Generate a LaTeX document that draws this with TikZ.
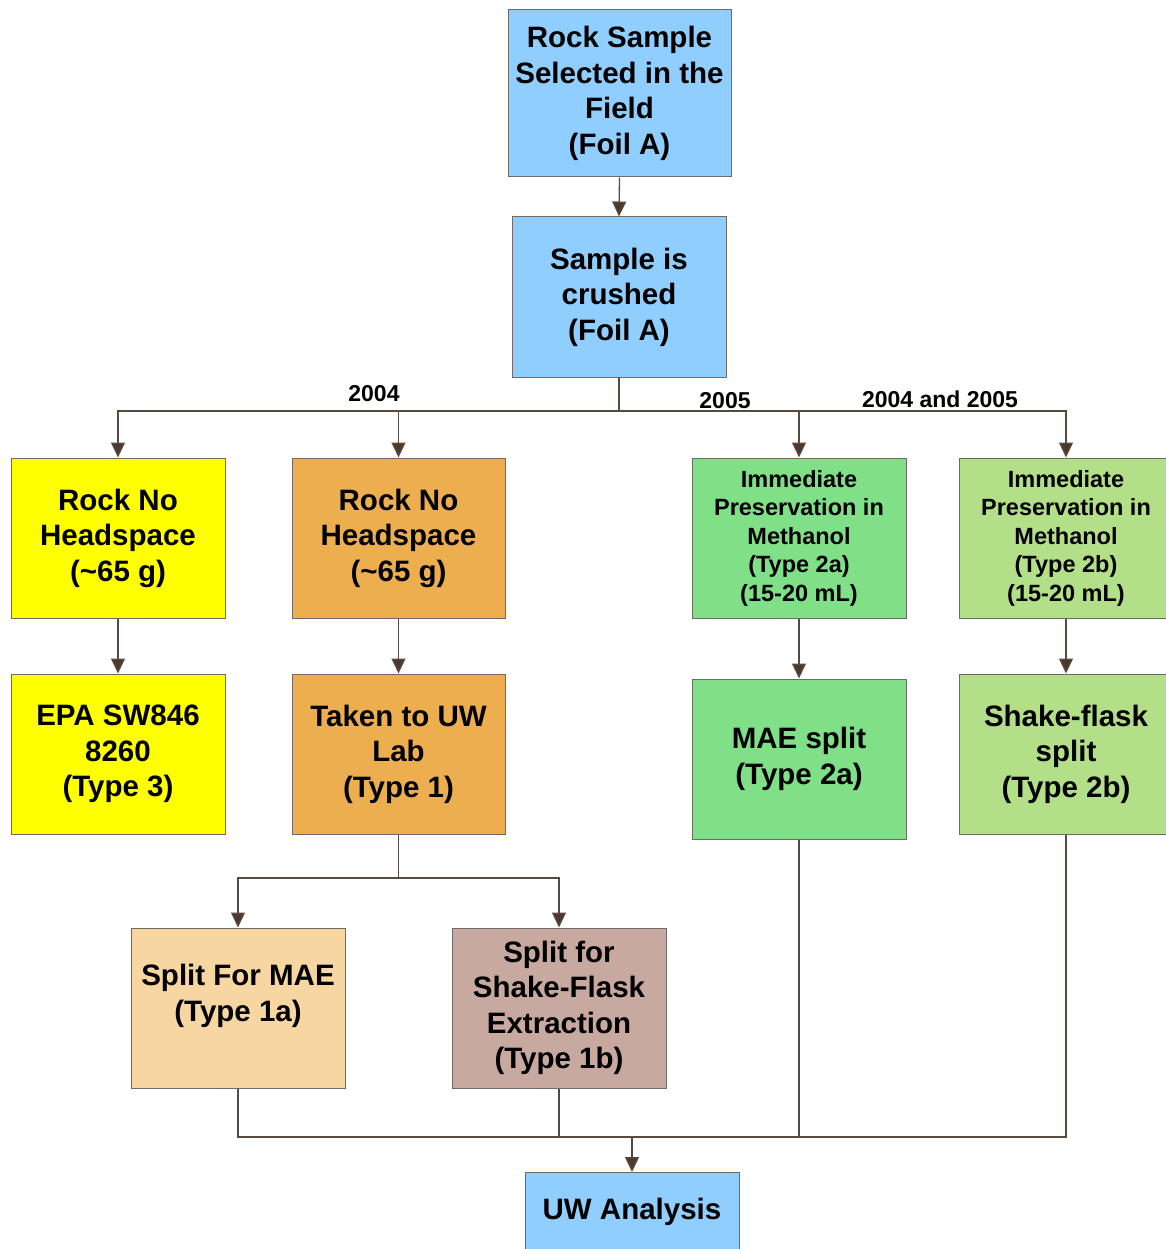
\documentclass[tikz,border=0pt]{standalone}
\usepackage{fontspec}
\setmainfont{Liberation Sans}
\usetikzlibrary{arrows.meta}
\definecolor{bluef}{HTML}{8FCEFF}
\definecolor{yelf}{HTML}{FFFF00}
\definecolor{orf}{HTML}{EDAE50}
\definecolor{grf}{HTML}{80E088}
\definecolor{lgrf}{HTML}{B3DF88}
\definecolor{peachf}{HTML}{F8D6A2}
\definecolor{rosef}{HTML}{C8A9A0}
\definecolor{edgec}{HTML}{6E6A66}
\definecolor{linec}{HTML}{5A4A3E}
\definecolor{tipc}{HTML}{4A3A2E}
\begin{document}
\begin{tikzpicture}[x=1pt,y=-1pt,
  box/.style={draw=edgec, line width=1pt, minimum width=214pt, minimum height=160pt,
    align=center, inner sep=0pt, font=\bfseries\fontsize{29.5}{35.5}\selectfont},
  smallbox/.style={box, font=\bfseries\fontsize{23.5}{28.5}\selectfont},
  txt/.style={align=center, inner sep=0pt, font=\bfseries\fontsize{29.5}{35.5}\selectfont},
  yearlbl/.style={inner sep=0pt, font=\bfseries\fontsize{23}{26}\selectfont},
  conn/.style={draw=linec, line width=1.3pt},
  arr/.style={conn, -{Triangle[width=14pt,length=15pt,fill=tipc]}}
]
\useasboundingbox (0,0) rectangle (1166,1249);

\node[box, fill=bluef, minimum width=223pt, minimum height=167pt] (b1) at (619.5,93.5)
  {Rock Sample\\Selected in the\\Field\\(Foil A)};
\node[box, fill=bluef] (b2) at (619,297) {Sample is\\crushed\\(Foil A)};

\node[box, fill=yelf] (b3) at (118,538) {Rock No\\Headspace\\(\textasciitilde65 g)};
\node[box, fill=orf, minimum width=213pt] (b4) at (398.5,538) {Rock No\\Headspace\\(\textasciitilde65 g)};
\node[smallbox, fill=grf] (b5) at (799,538) {Immediate\\Preservation in\\Methanol\\(Type 2a)\\(15-20 mL)};
\node[smallbox, fill=lgrf] (b6) at (1066,538) {Immediate\\Preservation in\\Methanol\\(Type 2b)\\(15-20 mL)};

\node[box, fill=yelf] (b7) at (118,754) {EPA SW846\\8260\\(Type 3)};
\node[box, fill=orf, minimum width=213pt] (b8) at (398.5,754) {Taken to UW\\Lab\\(Type 1)};
\node[box, fill=grf] (b9) at (799,759) {MAE split\\(Type 2a)};
\node[box, fill=lgrf] (b10) at (1066,754) {Shake-flask\\split\\(Type 2b)};

\node[box, fill=peachf] (b11) at (238,1008) {};
\node[txt] (b11t) at (238,996) {Split For MAE\\(Type 1a)};
\node[box, fill=rosef] (b12) at (559,1008) {Split for\\Shake-Flask\\Extraction\\(Type 1b)};

\node[box, fill=bluef, minimum height=78pt, anchor=north] (b13) at (632,1172) {UW Analysis};

\node[yearlbl] (y1) at (374,394) {2004};
\node[yearlbl] (y2) at (725,401) {2005};
\node[yearlbl] (y3) at (940,399) {2004 and 2005};

\coordinate (j1) at (619,411);
\coordinate (j2) at (398.5,878);
\coordinate (j3) at (632,1137);

\draw[arr] (b1.south) -- (b2.north);
\draw[conn] (b2.south) -- (j1);
\draw[arr] (j1) -| (b3.north);
\draw[arr] (j1) -| (b4.north);
\draw[arr] (j1) -| (b5.north);
\draw[arr] (j1) -| (b6.north);

\draw[arr] (b3.south) -- (b7.north);
\draw[arr] (b4.south) -- (b8.north);
\draw[arr] (b5.south) -- (b9.north);
\draw[arr] (b6.south) -- (b10.north);

\draw[conn] (b8.south) -- (j2);
\draw[arr] (j2) -| (b11.north);
\draw[arr] (j2) -| (b12.north);

\draw[conn] (b11.south) |- (j3);
\draw[conn] (b12.south) |- (j3);
\draw[conn] (b9.south) |- (j3);
\draw[conn] (b10.south) |- (j3);
\draw[arr] (j3) -- (b13.north);
\end{tikzpicture}
\end{document}
